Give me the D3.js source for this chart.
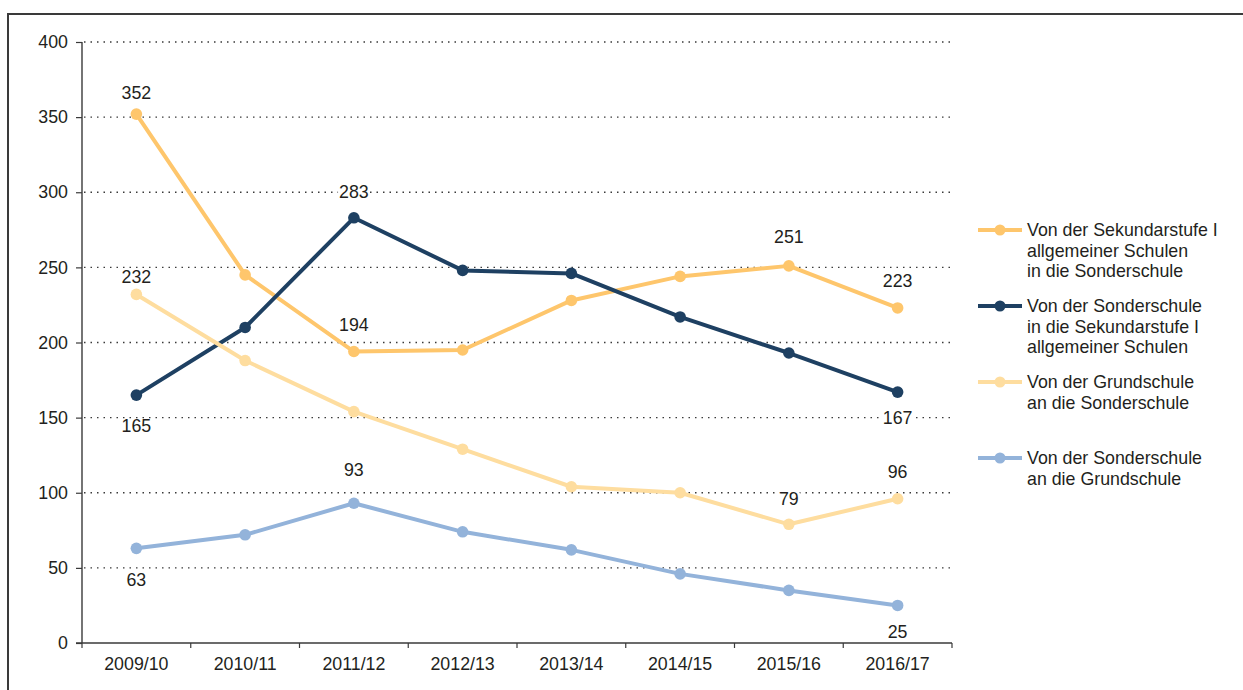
<!DOCTYPE html>
<html>
<head>
<meta charset="utf-8">
<script src="https://cdn.jsdelivr.net/npm/d3@7"></script>
<style>
  html, body { margin: 0; padding: 0; background: #fff; }
  svg { display: block; font-family: "Liberation Sans", Arial, sans-serif; }
</style>
</head>
<body>
<svg id="chart" width="1243" height="690"></svg>
<script>
// School years on the x axis
const years = ["2009/10", "2010/11", "2011/12", "2012/13", "2013/14", "2014/15", "2015/16", "2016/17"];

// Transitions per school year
const sekToSonder = [352, 245, 194, 195, 228, 244, 251, 223];
const sonderToSek = [165, 210, 283, 248, 246, 217, 193, 167];
const grundToSonder = [232, 188, 154, 129, 104, 100, 79, 96];
const sonderToGrund = [63, 72, 93, 74, 62, 46, 35, 25];

// Legend names
const seriesNames = [
  ["Von der Sekundarstufe I", "allgemeiner Schulen", "in die Sonderschule"],
  ["Von der Sonderschule", "in die Sekundarstufe I", "allgemeiner Schulen"],
  ["Von der Grundschule", "an die Sonderschule"],
  ["Von der Sonderschule", "an die Grundschule"]
];

// Y axis ticks
const yTicks = [0, 50, 100, 150, 200, 250, 300, 350, 400];

const colors = ["#fec66c", "#1e4062", "#fedd9f", "#93b3da"];
const seriesValues = [sekToSonder, sonderToSek, grundToSonder, sonderToGrund];

// Which points carry a value label: [series, index, vertical offset of label centre]
const labelled = [
  [0, 0, -21], [0, 2, -27], [0, 6, -29], [0, 7, -27],
  [1, 0, 31], [1, 2, -26], [1, 7, 26],
  [2, 0, -18], [2, 6, -26], [2, 7, -27],
  [3, 0, 31], [3, 2, -33], [3, 7, 26]
];

const svg = d3.select("#chart");
const fontSize = 17.8;
const textColor = "#231f20";

// Outer frame (runs off the right and bottom edges)
svg.append("path")
  .attr("d", "M8,700 V14 H1250")
  .attr("fill", "none")
  .attr("stroke", "#3a3a3a")
  .attr("stroke-width", 2);

const plotLeft = 82, plotRight = 952, plotTop = 42, plotBottom = 643;

const x = d3.scaleBand().domain(years).range([plotLeft, plotRight]).padding(0);
const y = d3.scaleLinear().domain([0, 400]).range([plotBottom, plotTop]);
const cx = d => x(d) + x.bandwidth() / 2;

// Dotted grid lines
svg.append("g")
  .selectAll("line")
  .data(yTicks.filter(t => t > 0))
  .join("line")
  .attr("x1", plotLeft + 2)
  .attr("x2", plotRight)
  .attr("y1", d => y(d))
  .attr("y2", d => y(d))
  .attr("stroke", "#3a3a3a")
  .attr("stroke-width", 1.3)
  .attr("stroke-dasharray", "1.5,5");

// Y axis
const yAxis = svg.append("g")
  .attr("transform", `translate(${plotLeft},0)`)
  .call(d3.axisLeft(y).tickValues(yTicks).tickSize(6).tickPadding(8));
yAxis.select(".domain").attr("stroke", "#3a3a3a").attr("stroke-width", 1.4)
  .attr("d", `M0,${plotTop}V${plotBottom}`);
yAxis.selectAll(".tick line").attr("stroke", "#3a3a3a").attr("stroke-width", 1.2);
yAxis.selectAll(".tick text")
  .attr("font-size", fontSize)
  .attr("font-family", "Liberation Sans, Arial, sans-serif")
  .attr("fill", textColor);

// X axis with ticks on category boundaries
const xAxis = svg.append("g")
  .attr("transform", `translate(0,${plotBottom})`);
xAxis.append("line")
  .attr("x1", plotLeft - 6).attr("x2", plotRight)
  .attr("stroke", "#3a3a3a").attr("stroke-width", 1.4);
const bounds = years.map(d => x(d)).concat([plotRight]);
xAxis.selectAll("line.tick")
  .data(bounds)
  .join("line")
  .attr("class", "tick")
  .attr("x1", d => d).attr("x2", d => d)
  .attr("y1", 0).attr("y2", 5)
  .attr("stroke", "#3a3a3a").attr("stroke-width", 1.2);
xAxis.selectAll("text")
  .data(years)
  .join("text")
  .attr("x", d => cx(d))
  .attr("y", 27)
  .attr("text-anchor", "middle")
  .attr("font-size", fontSize)
  .attr("fill", textColor)
  .text(d => d);

// Series lines and markers
const line = d3.line().x((d, i) => cx(years[i])).y(d => y(d));
seriesValues.forEach((vals, s) => {
  const g = svg.append("g");
  g.append("path")
    .datum(vals)
    .attr("d", line)
    .attr("fill", "none")
    .attr("stroke", colors[s])
    .attr("stroke-width", 4)
    .attr("stroke-linejoin", "round");
  g.selectAll("circle")
    .data(vals)
    .join("circle")
    .attr("cx", (d, i) => cx(years[i]))
    .attr("cy", d => y(d))
    .attr("r", 5.8)
    .attr("fill", colors[s]);
});

// Value labels with a white backing so grid dots don't show through
const labelG = svg.append("g");
labelled.forEach(([s, i, dy]) => {
  const v = seriesValues[s][i];
  const px = cx(years[i]);
  const py = y(v) + dy;
  const t = labelG.append("text")
    .attr("x", px)
    .attr("y", py)
    .attr("dy", "0.35em")
    .attr("text-anchor", "middle")
    .attr("font-size", fontSize)
    .attr("fill", textColor)
    .text(v);
  const bb = t.node().getBBox();
  labelG.insert("rect", () => t.node())
    .attr("x", bb.x - 1).attr("y", py - 6)
    .attr("width", bb.width + 2).attr("height", 12)
    .attr("fill", "#fff");
});

// Legend
const legend = svg.append("g");
const legendTop = [230, 306, 382, 458];
const lineGap = 20.5;
seriesNames.forEach((lines, s) => {
  const ly = legendTop[s];
  legend.append("line")
    .attr("x1", 978).attr("x2", 1022)
    .attr("y1", ly).attr("y2", ly)
    .attr("stroke", colors[s]).attr("stroke-width", 4);
  legend.append("circle")
    .attr("cx", 1000).attr("cy", ly).attr("r", 5.5)
    .attr("fill", colors[s]);
  const t = legend.append("text")
    .attr("x", 1027)
    .attr("y", ly)
    .attr("font-size", fontSize)
    .attr("fill", textColor);
  lines.forEach((ln, k) => {
    t.append("tspan")
      .attr("x", 1027)
      .attr("y", ly + k * lineGap)
      .attr("dy", "0.35em")
      .text(ln);
  });
});
</script>
</body>
</html>
